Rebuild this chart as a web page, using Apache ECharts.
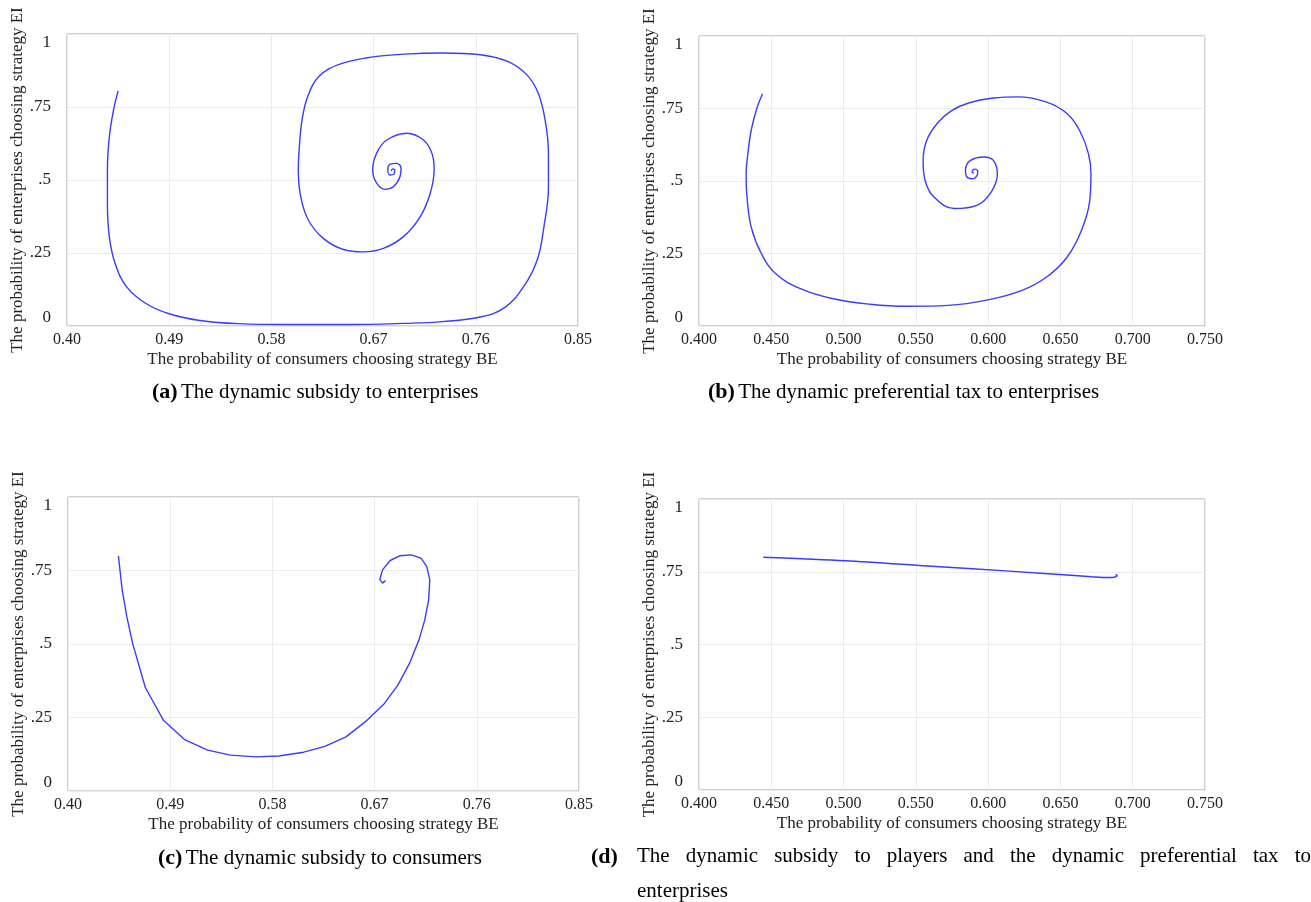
<!DOCTYPE html>
<html>
<head>
<meta charset="utf-8">
<script src="https://cdn.jsdelivr.net/npm/echarts@6/dist/echarts.min.js"></script>
<style>
  html, body { margin: 0; padding: 0; background: #fff; }
  #main { width: 1311px; height: 902px; }
</style>
</head>
<body>
<div id="main"></div>
<script>
// (a) dynamic subsidy to enterprises
const aX = [0.445, 0.441, 0.4373, 0.4356, 0.4356, 0.4373, 0.4424, 0.4525, 0.4695, 0.4898, 0.517, 0.551, 0.595, 0.646, 0.697, 0.731, 0.764, 0.785, 0.802, 0.814, 0.820, 0.824, 0.824, 0.821, 0.815, 0.805, 0.788, 0.764, 0.731, 0.697, 0.663, 0.639, 0.622, 0.612, 0.607, 0.6044, 0.6037, 0.6058, 0.6125, 0.6257, 0.6434, 0.661, 0.6786, 0.6963, 0.711, 0.7198, 0.7233, 0.7213, 0.7139, 0.6993, 0.6816, 0.6727, 0.6692, 0.6727, 0.6800, 0.6874, 0.6933, 0.6942, 0.6904, 0.6845, 0.6825, 0.6845, 0.6880, 0.6886, 0.6866, 0.6857]
const aY = [0.805, 0.740, 0.649, 0.534, 0.420, 0.305, 0.214, 0.134, 0.077, 0.042, 0.019, 0.008, 0.005, 0.005, 0.009, 0.015, 0.031, 0.062, 0.134, 0.225, 0.340, 0.477, 0.592, 0.706, 0.797, 0.860, 0.906, 0.929, 0.935, 0.931, 0.918, 0.895, 0.855, 0.786, 0.706, 0.603, 0.534, 0.443, 0.363, 0.300, 0.262, 0.254, 0.266, 0.306, 0.374, 0.454, 0.534, 0.592, 0.637, 0.660, 0.637, 0.592, 0.534, 0.489, 0.468, 0.477, 0.512, 0.540, 0.557, 0.554, 0.534, 0.517, 0.520, 0.534, 0.538, 0.530]

// (b) dynamic preferential tax to enterprises
const bX = [0.444, 0.4403, 0.4361, 0.4338, 0.4326, 0.4332, 0.4361, 0.4432, 0.4531, 0.4701, 0.4928, 0.5184, 0.5439, 0.5723, 0.6007, 0.6234, 0.6405, 0.6547, 0.6646, 0.6703, 0.6711, 0.6694, 0.6632, 0.6547, 0.6405, 0.6206, 0.6036, 0.5865, 0.5745, 0.5650, 0.5575, 0.5550, 0.5565, 0.5624, 0.5766, 0.5922, 0.6021, 0.6064, 0.6036, 0.5973, 0.5878, 0.5843, 0.5850, 0.5889, 0.5924, 0.5928, 0.5905, 0.5889, 0.5901]
const bY = [0.801, 0.755, 0.675, 0.594, 0.525, 0.445, 0.341, 0.249, 0.180, 0.129, 0.094, 0.075, 0.068, 0.071, 0.091, 0.123, 0.169, 0.238, 0.330, 0.433, 0.525, 0.594, 0.675, 0.732, 0.772, 0.790, 0.786, 0.769, 0.742, 0.700, 0.640, 0.570, 0.500, 0.445, 0.405, 0.416, 0.462, 0.525, 0.571, 0.583, 0.571, 0.537, 0.516, 0.508, 0.520, 0.534, 0.541, 0.531, 0.527]

// (c) dynamic subsidy to consumers
const cX = [0.4444, 0.4477, 0.4518, 0.4569, 0.4681, 0.4840, 0.5026, 0.5229, 0.5432, 0.5652, 0.5856, 0.6076, 0.6262, 0.6448, 0.6617, 0.6787, 0.6905, 0.7007, 0.7091, 0.7142, 0.7176, 0.7186, 0.7159, 0.7108, 0.7024, 0.6922, 0.6837, 0.6770, 0.6746, 0.6770, 0.6797]
const cY = [0.800, 0.684, 0.593, 0.502, 0.352, 0.241, 0.175, 0.139, 0.122, 0.116, 0.119, 0.132, 0.152, 0.184, 0.235, 0.298, 0.360, 0.434, 0.514, 0.582, 0.650, 0.718, 0.764, 0.792, 0.803, 0.800, 0.784, 0.752, 0.720, 0.707, 0.716]

// (d) subsidy to players + preferential tax to enterprises
const dX = [0.4445, 0.5013, 0.5580, 0.6147, 0.6573, 0.6714, 0.6828, 0.6880, 0.6893, 0.6880]
const dY = [0.800, 0.788, 0.770, 0.752, 0.738, 0.733, 0.730, 0.732, 0.737, 0.741]

const yTickLabels = ["0", ".25", ".5", ".75", "1"]
const xNameText = "The probability of consumers choosing strategy BE"
const yNameText = "The probability of enterprises choosing strategy EI"

const panels = [
  { x: aX, y: aY, xMin: 0.40, xMax: 0.85, step: 0.09, digits: 2, smooth: 0.4, grid: { left: 67, top: 34, width: 511, height: 292 } },
  { x: bX, y: bY, xMin: 0.40, xMax: 0.75, step: 0.05, digits: 3, smooth: 0.4, grid: { left: 699, top: 36, width: 506, height: 290 } },
  { x: cX, y: cY, xMin: 0.40, xMax: 0.85, step: 0.09, digits: 2, smooth: false, grid: { left: 68, top: 497, width: 511, height: 294 } },
  { x: dX, y: dY, xMin: 0.40, xMax: 0.75, step: 0.05, digits: 3, smooth: 0.3, grid: { left: 699, top: 499, width: 506, height: 291 } },
]

const FONT = "'Liberation Serif', 'Times New Roman', serif"
const LINE = "#3b3bff"

let grids = [], xAxes = [], yAxes = [], series = []
panels.forEach((p, i) => {
  grids.push(Object.assign({ show: true, borderColor: "#a3a3a3", borderWidth: 1, backgroundColor: "#fff" }, p.grid))
  // ticks are counted from 0 on a shifted axis so they land on xMin + k*step
  xAxes.push({
    type: "value",
    gridIndex: i,
    min: 0,
    max: +(p.xMax - p.xMin).toFixed(4),
    interval: p.step,
    name: xNameText,
    nameLocation: "middle",
    nameGap: 25,
    nameTextStyle: { fontFamily: FONT, fontSize: 17, color: "#222" },
    axisLine: { show: false },
    axisTick: { show: false },
    axisLabel: {
      margin: 6,
      fontFamily: FONT,
      fontSize: 16,
      color: "#222",
      formatter: (v) => (v + p.xMin).toFixed(p.digits),
    },
    splitLine: { show: true, lineStyle: { color: "#ececec", width: 1 } },
  })
  yAxes.push({
    type: "value",
    gridIndex: i,
    min: 0,
    max: 1,
    interval: 0.25,
    name: yNameText,
    nameLocation: "middle",
    nameGap: 41,
    nameTextStyle: { fontFamily: FONT, fontSize: 17, color: "#222" },
    axisLine: { show: false },
    axisTick: { show: false },
    axisLabel: {
      margin: 16,
      fontFamily: FONT,
      fontSize: 17,
      color: "#222",
      verticalAlignMinLabel: "bottom",
      verticalAlignMaxLabel: "top",
      formatter: (v) => yTickLabels[Math.round(v / 0.25)],
    },
    splitLine: { show: true, lineStyle: { color: "#ececec", width: 1 } },
  })
  series.push({
    type: "line",
    xAxisIndex: i,
    yAxisIndex: i,
    showSymbol: false,
    smooth: p.smooth,
    lineStyle: { color: LINE, width: 1.4 },
    data: p.x.map((v, k) => [v - p.xMin, p.y[k]]),
  })
})

// captions
const capFont = 21
const rich = {
  b: { fontFamily: FONT, fontSize: capFont + 1, fontWeight: "bold", fill: "#000" },
  n: { fontFamily: FONT, fontSize: capFont, fill: "#000" },
}
const caption = (x, y, tag, txt) => ({
  type: "text",
  left: x,
  top: y - 11,
  style: { text: `{b|${tag}} {n|${txt}}`, rich: rich, fill: "#000" },
})

let graphic = [
  caption(152, 392, "(a)", "The dynamic subsidy to enterprises"),
  caption(708, 392, "(b)", "The dynamic preferential tax to enterprises"),
  caption(158, 858, "(c)", "The dynamic subsidy to consumers"),
  caption(591, 857, "(d)", ""),
]

// (d) first line is justified between the tag and the page edge
const dWords = "The dynamic subsidy to players and the dynamic preferential tax to".split(" ")
const ctx = document.createElement("canvas").getContext("2d")
ctx.font = capFont + "px 'Liberation Serif'"
const widths = dWords.map((w) => ctx.measureText(w).width)
const lineStart = 637, lineEnd = 1311
const gap = (lineEnd - lineStart - widths.reduce((a, b) => a + b, 0)) / (dWords.length - 1)
let cx = lineStart
dWords.forEach((w, k) => {
  graphic.push({ type: "text", left: cx, top: 857 - 11, style: { text: w, fontFamily: FONT, fontSize: capFont, fill: "#000" } })
  cx += widths[k] + gap
})
graphic.push({ type: "text", left: lineStart, top: 892 - 11, style: { text: "enterprises", fontFamily: FONT, fontSize: capFont, fill: "#000" } })

let myChart = echarts.init(document.getElementById("main"))
myChart.setOption({
  animation: false,
  backgroundColor: "#fff",
  grid: grids,
  xAxis: xAxes,
  yAxis: yAxes,
  series: series,
  graphic: graphic,
})
</script>
</body>
</html>
